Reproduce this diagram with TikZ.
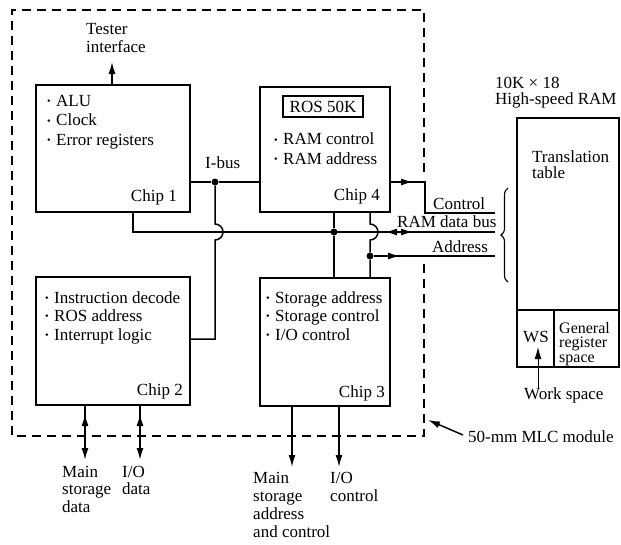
\documentclass[tikz,border=0pt]{standalone}
\usepackage{fontspec}
\usepackage{graphicx}
\setmainfont{Liberation Serif}
\usetikzlibrary{arrows.meta,decorations.pathreplacing}
\newcommand\bul{\makebox[9pt][l]{\raisebox{0.22ex}{\scalebox{0.6}{\textbullet}}}}
\begin{document}
\begin{tikzpicture}[x=1pt,y=-1pt,
  chip/.style={draw,line width=2.4pt,anchor=north west,inner sep=0pt,outer sep=0pt},
  txt/.style={font=\fontsize{17}{19.5}\selectfont,inner sep=0pt,align=left,anchor=north west},
  lbl/.style={font=\fontsize{17}{17.5}\selectfont,inner sep=0pt,align=left,anchor=north west},
  one/.style={font=\fontsize{17}{17}\selectfont,inner sep=0pt},
  wire/.style={line width=1.5pt},
  tip/.style={-{Latex[length=12pt,width=7pt]}},
  dbl/.style={{Latex[length=12pt,width=7pt]}-{Latex[length=12pt,width=7pt]}},
  dot/.style={circle,fill,inner sep=0pt,minimum size=7pt}
]
\useasboundingbox (0,0) rectangle (621,544);

% module outline
\draw[line width=1.3pt,dash pattern=on 9pt off 6pt] (424,172) -- (424,10) -- (12,10) -- (12,436) -- (424,436) -- (424,262);

% chips
\node[chip,minimum width=154pt,minimum height=127pt] (c1) at (36,85) {};
\node[chip,minimum width=130pt,minimum height=125pt] (c4) at (260,87) {};
\node[chip,minimum width=154pt,minimum height=128pt] (c2) at (36,277) {};
\node[chip,minimum width=130pt,minimum height=128pt] (c3) at (260,278) {};

\node[txt] (t1) at (47,95) {\bul ALU\\ \bul Clock\\ \bul Error registers};
\node[one,anchor=base east] (l1) at (177,201) {Chip 1};
\node[draw,line width=1.8pt,minimum width=80pt,minimum height=21pt,inner sep=0pt,font=\fontsize{17}{17}\selectfont] (ros) at (323,106.5) {ROS 50K};
\node[txt] (t4) at (274,133) {\bul RAM control\\ \bul RAM address};
\node[one,anchor=base east] (l4) at (380,200) {Chip 4};
\node[txt,font=\fontsize{17}{18.5}\selectfont] (t2) at (45,291) {\bul Instruction decode\\ \bul ROS address\\ \bul Interrupt logic};
\node[one,anchor=base east] (l2) at (183,395) {Chip 2};
\node[txt,font=\fontsize{17}{18.5}\selectfont] (t3) at (266,291) {\bul Storage address\\ \bul Storage control\\ \bul I/O control};
\node[one,anchor=base east] (l3) at (385,397) {Chip 3};

% tester interface
\coordinate (te) at (112,62);
\draw[wire,tip] (c1.north -| te) -- (te);
\node[lbl,font=\fontsize{17}{18}\selectfont] (tes) at (86,23) {Tester\\interface};

% I-bus
\node[dot] (ib) at (215,182) {};
\draw[wire] (c1.east |- ib) -- (ib) -- (c4.west |- ib);
\node[one,anchor=base west] (ibl) at (205,168) {I-bus};
\coordinate (h1) at (215,224);
\coordinate (ib2) at (215,339);
\draw[wire] (ib) -- (h1) arc[start angle=-90,end angle=90,radius=8] -- (ib2) -- (c2.east |- ib2);

% RAM data bus
\coordinate (bl) at (133,232);
\coordinate (br) at (495,232);
\node[dot] (bd) at (334,232) {};
\draw[wire] (c1.south -| bl) -- (bl) -- (br);
\draw[wire] (c4.south -| bd) -- (bd) -- (c3.north -| bd);
\coordinate (da) at (385,232);
\coordinate (db) at (413,232);
\draw[wire,dbl] (da) -- (db);
\node[one,anchor=base west] (rdb) at (397,227) {RAM data bus};

% address
\node[dot] (ad) at (370,256) {};
\coordinate (h2) at (370,224);
\coordinate (ae) at (495,256);
\draw[wire] (c4.south -| h2) -- (h2) arc[start angle=-90,end angle=90,radius=8] -- (ad) -- (c3.north -| ad);
\draw[wire] (ad) -- (ae);
\coordinate (aa) at (385,256);
\coordinate (ab) at (400,256);
\draw[wire,tip] (aa) -- (ab);
\node[one,anchor=base west] (adl) at (432,252) {Address};

% control
\coordinate (k1) at (425,182);
\coordinate (k2) at (425,213);
\coordinate (k3) at (495,213);
\draw[wire] (c4.east |- k1) -- (k1) -- (k2) -- (k3);
\coordinate (ka) at (395,182);
\coordinate (kb) at (413,182);
\draw[wire,tip] (ka) -- (kb);
\node[one,anchor=base west] (kl) at (433,209) {Control};

% brace
\coordinate (b1) at (508,282);
\coordinate (b2) at (508,188);
\draw[line width=1.1pt,decorate,decoration={brace,amplitude=7pt}] (b1) -- (b2);

% RAM
\node[lbl,font=\fontsize{17}{15.5}\selectfont] (rl) at (495,77) {10K × 18\\High-speed RAM};
\node[chip,minimum width=102pt,minimum height=192pt] (tt) at (517,118) {};
\node[chip,minimum width=37pt,minimum height=57pt] (ws) at (517,310) {};
\node[chip,minimum width=65pt,minimum height=57pt] (gr) at (554,310) {};
\node[lbl,font=\fontsize{17}{15.5}\selectfont] (ttl) at (532,151) {Translation\\table};
\node[one,anchor=base west] (wsl) at (523,342) {WS};
\node[lbl,font=\fontsize{16}{14.5}\selectfont] (grl) at (559,322) {General\\register\\space};
\coordinate (w1) at (538,388);
\coordinate (w2) at (538,347);
\draw[line width=1pt,tip] (w1) -- (w2);
\node[one,anchor=base west] (wl) at (524,399) {Work space};

% module label
\coordinate (m1) at (463,435);
\coordinate (m2) at (428,420);
\draw[wire,tip] (m1) -- (m2);
\node[one,anchor=base west] (ml) at (468,442) {50-mm MLC module};

% chip 2 I/O
\coordinate (p1) at (85,460);
\coordinate (p1a) at (85,430);
\coordinate (p1b) at (85,414);
\draw[wire,tip] (c2.south -| p1) -- (p1);
\draw[wire,tip] (p1a) -- (p1b);
\coordinate (p2) at (140,460);
\coordinate (p2a) at (140,430);
\coordinate (p2b) at (140,414);
\draw[wire,tip] (c2.south -| p2) -- (p2);
\draw[wire,tip] (p2a) -- (p2b);
\node[lbl] (ms) at (62,466) {Main\\storage\\data};
\node[lbl] (iod) at (122,466) {I/O\\data};

% chip 3 outputs
\coordinate (q1) at (292,467);
\coordinate (q2) at (339,467);
\draw[wire,tip] (c3.south -| q1) -- (q1);
\draw[wire,tip] (c3.south -| q2) -- (q2);
\node[lbl,font=\fontsize{17}{18}\selectfont] (msa) at (253,472) {Main\\storage\\address\\and control};
\node[lbl,font=\fontsize{17}{18}\selectfont] (ioc) at (330,472) {I/O\\control};
\end{tikzpicture}
\end{document}
